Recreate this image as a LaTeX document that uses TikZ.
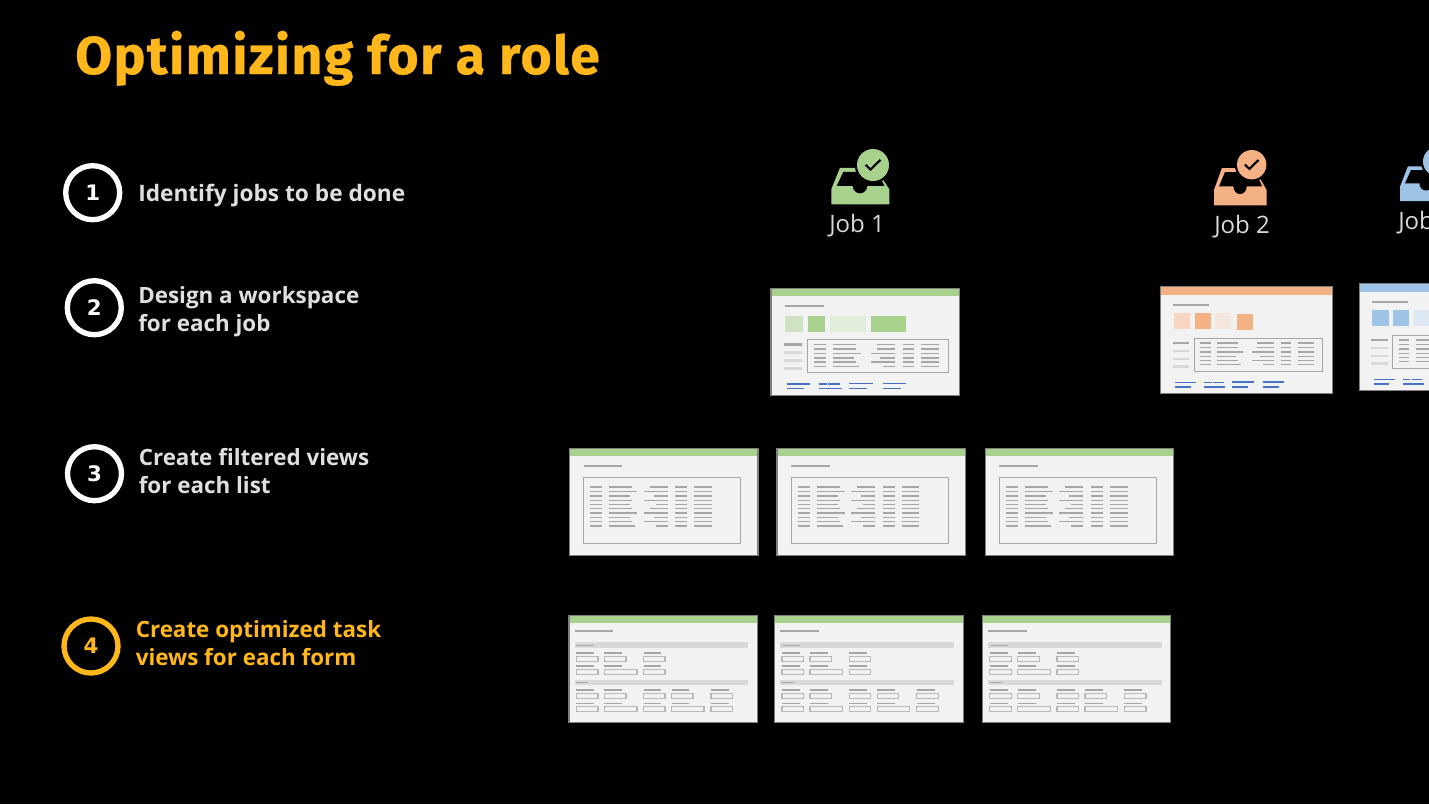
\documentclass[tikz,border=0pt]{standalone}
\usepackage{fontspec}
\setmainfont{Open Sans}
\newfontfamily\titlefont[LetterSpace=2.9,FakeBold=0.6]{Fira Sans Bold}
\newfontfamily\numfont{DejaVu Sans}
\definecolor{gold}{HTML}{FFB71B}
\definecolor{gA}{HTML}{A9D18E}\definecolor{gB}{HTML}{CFE3C3}\definecolor{gC}{HTML}{E3EDDC}
\definecolor{oA}{HTML}{F4B183}\definecolor{oB}{HTML}{F8D6C2}\definecolor{oC}{HTML}{F4E6DC}
\definecolor{bA}{HTML}{9DC3E6}\definecolor{bB}{HTML}{DDE8F3}
\definecolor{winfill}{HTML}{F2F2F2}
\definecolor{wingray}{HTML}{7F7F7F}
\definecolor{barg}{HTML}{A6A6A6}
\definecolor{lightg}{HTML}{D9D9D9}
\definecolor{linkb}{HTML}{4472C4}
\tikzset{
  winbox/.style={fill=winfill},
  bar/.style={barg,line width=1.15pt},
  thickbar/.style={barg,line width=2pt},
  lightbar/.style={lightg,line width=2.2pt},
  linkbar/.style={linkb,line width=1pt},
  framebox/.style={draw=barg,fill=none,line width=.75pt},
  fieldbox/.style={draw=barg!80,fill=winfill,line width=.8pt},
  steptext/.style={font=\bfseries\fontsize{16.8}{21}\selectfont,text=lightg!85!white,anchor=west,align=left,inner sep=0pt},
  stepring/.style={circle,draw=white,line width=4pt,minimum size=40.5pt,inner sep=0pt,text=white,font=\numfont\bfseries\fontsize{16}{16}\selectfont},
  joblabel/.style={font=\fontsize{18}{20}\selectfont,text=lightg,anchor=base west,inner sep=0pt},
}
% window frame with coloured header
\newcommand{\winframe}[6]{% name,x,y,w,h,colour
  \node[winbox,rectangle,anchor=north west,minimum width=#4*.75pt,minimum height=#5*.75pt,inner sep=0pt,outer sep=0pt] (#1) at (#2,#3) {};
  \fill[#6] (#2,#3) rectangle ++(#4,8);
  \draw[wingray,line width=1pt] (#2,#3) rectangle ++(#4,#5);
}
% table rows for dashboard
\newcommand{\dashbody}{%
  \draw[thickbar,line width=1.6pt] (14,18) -- (53,18);
  \draw[thickbar] (13,56.3) -- (31,56.3);
  \foreach \yy in {64.3,72.3,80} \draw[lightbar] (13,\yy) -- (31,\yy);
  \draw[framebox] (36.6,51.3) rectangle (177.7,84.3);
  \foreach \yy/\w/\u in {56.3/23/18,60.9/23/18,65.3/27.7/24,69.7/21/15,73.7/23/24,78/25.7/12}{
    \draw[bar] (43,\yy) -- (55,\yy);
    \draw[bar] (62,\yy) -- ++(\w,0);
    \draw[bar] (124,\yy) -- ++(-\u,0);
    \draw[bar] (131.7,\yy) -- (143.3,\yy);
    \draw[bar] (150.3,\yy) -- (168,\yy);
  }
  \draw[linkbar] (16,95.7) -- (39,95.7) (16,100.3) -- (33,100.3);
  \draw[linkbar] (48,95.7) -- (56,95.7) (57.3,95.7) -- (69,95.7) (48,100.3) -- (70.7,100.3);
  \draw[linkbar] (78,95.2) -- (102,95.2) (78,100.3) -- (96,100.3);
  \draw[linkbar] (112,95.2) -- (135,95.2) (112,100.3) -- (130,100.3);
}
% list view
\newcommand{\listwin}[3]{% name,x,y
  \winframe{#1}{#2}{#3}{188.5}{107.5}{gA}
  \begin{scope}[shift={(#2,#3)}]
    \draw[thickbar,line width=1.7pt] (14,18) -- (52.7,18);
    \draw[framebox] (14,29.3) rectangle (171,95);
    \foreach \yy/\w/\u in {38.7/23/18,43.4/28/24,47.7/21/14,52/23/24,56.4/21/12,60.4/23/18,64.7/28/24,69/21/14,73.4/23/24,77.7/26/12}{
      \draw[bar] (20.7,\yy) -- (32.7,\yy);
      \draw[bar] (39.7,\yy) -- ++(\w,0);
      \draw[bar] (98,\yy) -- ++(-\u,0);
      \draw[bar] (105.7,\yy) -- (117.7,\yy);
      \draw[bar] (124.7,\yy) -- (142.3,\yy);
    }
  \end{scope}
}
% form view
\newcommand{\formwin}[3]{% name,x,y
  \winframe{#1}{#2}{#3}{188.5}{107.5}{gA}
  \begin{scope}[shift={(#2,#3)}]
    \draw[thickbar,line width=1.7pt] (5.7,15.7) -- (44.3,15.7);
    \fill[lightg] (5.7,27) rectangle (179.3,32.7);
    \fill[lightg] (5.7,64.3) rectangle (179.3,70);
    \draw[bar,line width=.8pt] (7.3,30) -- (25.3,30);
    \draw[bar,line width=.8pt] (7.3,67) -- (19.3,67);
    \foreach \xa/\xb/\xc/\yl/\yb in {
      7.3/29/25.3/37.7/41, 35.3/57/53.3/37.7/41, 74.7/96/92.3/37.7/41,
      7.3/29/25.3/50.7/54, 35.3/68/53.3/50.7/54, 74.7/96/92.3/50.7/54,
      7.3/29/25.3/74.7/78, 35.3/57/53.3/74.7/78, 74.7/96/92.3/74.7/78, 102.7/124/120.3/74.7/78, 142/163.7/160/74.7/78,
      7.3/29/25.3/88/91, 35.3/68/53.3/88/91, 74.7/96/92.3/88/91, 102.7/135/120.3/88/91, 142/163.7/160/88/91}{
      \draw[bar,line width=.95pt] (\xa,\yl) -- (\xc,\yl);
      \draw[fieldbox] (\xa,\yb) rectangle (\xb,\yb+5.4);
    }
  \end{scope}
}
% inbox icon: x,y = bottom-left of tray; xscale, height scale, colour, circle x, circle y, circle r
\newcommand{\inboxicon}[8]{%
  \begin{scope}[shift={(#1,#2)},x=#3*.75pt,y=-#4*.75pt]
    \fill[#5] (0,0) -- (0,-15) -- (8.7,-36.5) -- (44,-36.5) -- (58,-15) -- (58,0) -- cycle;
    \fill[black] (5.5,-18.5) -- (12,-32.5) -- (46,-32.5) -- (53,-18.5) -- (36,-18.5)
       arc[start angle=0,end angle=180,x radius=7.3,y radius=7.5] -- cycle;
  \end{scope}
  \fill[black] (#6,#7) circle[radius=#8+2.3];
  \fill[#5] (#6,#7) circle[radius=#8];
  \begin{scope}[shift={(#6,#7)},x=#8/16*.75pt,y=-#8/16*.75pt]
    \draw[black,line width=1.6pt] (-7.5,-.2) -- (-2.5,4.5) -- (7.5,-5.2);
  \end{scope}
}
\begin{document}
\begin{tikzpicture}[x=.75pt,y=-.75pt]
\useasboundingbox (0,0) rectangle (1429,804);
\fill[black] (0,0) rectangle (1429,804);
\clip (0,0) rectangle (1429,804);
\node[anchor=base west,inner sep=0pt,text=gold,font=\titlefont\fontsize{40}{44}\selectfont] (title) at (75,74) {Optimizing for a role};

\node[stepring] (n1) at (92.7,192.7) {1};
\node[stepring] (n2) at (94.3,307.7) {2};
\node[stepring] (n3) at (94.5,473.7) {3};
\node[stepring,draw=gold,text=gold] (n4) at (91,646) {4};
\node[steptext,font=\bfseries\fontsize{17}{21}\selectfont] (s1) at (138,195.5) {Identify jobs to be done};
\node[steptext] (s2) at (138,311.3) {Design a workspace\\for each job};
\node[steptext] (s3) at (138.5,471.5) {Create filtered views\\for each list};
\node[steptext,text=gold] (s4) at (135.5,643.5) {Create optimized task\\views for each form};

\inboxicon{831.3}{204.3}{1}{1}{gA}{873}{165}{16}
\inboxicon{1214}{205.3}{.908}{1.02}{oA}{1251.7}{164.7}{14.7}
\inboxicon{1400}{201}{.908}{.95}{bA}{1437.7}{161.5}{14.7}
\node[joblabel] (j1) at (829,232.5) {Job 1};
\node[joblabel] (j2) at (1214,233) {Job 2};
\node[joblabel] (j3) at (1398,229.5) {Job 3};

% dashboards
\winframe{d1}{771}{288.3}{188.7}{107.5}{gA}
\begin{scope}[shift={(771,288.3)}]
  \dashbody
  \fill[gB] (14,27.6) rectangle (32,43.7);
  \fill[gA] (37,27.6) rectangle (54.4,43.7);
  \fill[gC] (59.3,27.6) rectangle (95,43.7);
  \fill[gA] (100,27.6) rectangle (135,43.7);
\end{scope}
\winframe{d2}{1160.7}{286.7}{172}{107}{oA}
\begin{scope}[shift={(1160.7,286.7)},xscale=.912]
  \dashbody
\end{scope}
\begin{scope}[shift={(1160.7,286.7)}]
  \fill[oB] (13,26.7) rectangle (29,42.7);
  \fill[oA] (34,26.7) rectangle (50,42.7);
  \fill[oC] (54,26.7) rectangle (70,42.7);
  \fill[oA] (76,27.4) rectangle (92,43.4);
\end{scope}
\winframe{d3}{1359.3}{283.7}{172}{107}{bA}
\begin{scope}[shift={(1359.3,283.7)},xscale=.912]
  \dashbody
\end{scope}
\begin{scope}[shift={(1359.3,283.7)}]
  \fill[bA] (13,26.7) rectangle (29.5,42.7);
  \fill[bA] (33.7,26.7) rectangle (50,42.7);
  \fill[bB] (54.7,26.7) rectangle (71,42.7);
  \fill[bA] (76,26.7) rectangle (92,42.7);
\end{scope}

\listwin{l1}{569.6}{448.3}
\listwin{l2}{777}{448.3}
\listwin{l3}{985.2}{448.3}
\formwin{f1}{569}{615.3}
\formwin{f2}{774.7}{615.3}
\formwin{f3}{982.3}{615.3}
\end{tikzpicture}
\end{document}
